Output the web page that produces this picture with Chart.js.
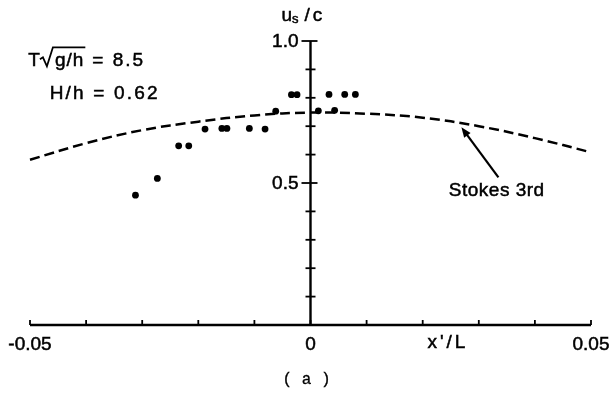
<!DOCTYPE html>
<html>
<head>
<meta charset="utf-8">
<script src="https://cdn.jsdelivr.net/npm/chart.js@4"></script>
<style>
  html, body { margin: 0; padding: 0; background: #fff; }
</style>
</head>
<body>
<canvas id="grafico" width="616" height="397"></canvas>
<script>
// Dados medidos (pontos) - u_s/c em função de x'/L
const medidosX = [-0.0312, -0.0273, -0.0235, -0.0217, -0.0188, -0.0158, -0.0149, -0.0109, -0.0081,
                  -0.0062, -0.0034, -0.0024, 0.0014, 0.0033, 0.0043, 0.0061, 0.0080];
const medidosY = [0.457, 0.516, 0.631, 0.631, 0.690, 0.692, 0.692, 0.692, 0.690,
                  0.753, 0.811, 0.811, 0.754, 0.812, 0.756, 0.812, 0.812];

// Curva teórica Stokes 3a ordem
const stokesX = [-0.05, -0.04, -0.03, -0.02, -0.01, 0, 0.01, 0.02, 0.03, 0.04, 0.05];
const stokesY = [0.582, 0.640, 0.686, 0.716, 0.738, 0.748, 0.744, 0.730, 0.700, 0.658, 0.608];

// Eixos
const X_MIN = -0.05, X_MAX = 0.05, Y_MIN = 0, Y_MAX = 1.0;
const xTicks = [-0.05, -0.04, -0.03, -0.02, -0.01, 0, 0.01, 0.02, 0.03, 0.04, 0.05];
const xLabels = [[-0.05, '-0.05'], [0, '0'], [0.05, '0.05']];
const yTicks = [0.1, 0.2, 0.3, 0.4, 0.5, 0.6, 0.7, 0.8, 0.9, 1.0];
const yLabels = [[0.5, '0.5'], [1.0, '1.0']];

// Anotações (posições em unidades dos dados)
const seta = { de: [0.0335, 0.52], para: [0.0269, 0.696] };
const textoStokes = { x: 0.0332, y: 0.454, txt: 'Stokes 3rd' };

const FONTE = '"Liberation Sans", Arial, Helvetica, sans-serif';

// texto um pouco mais "pesado", como na figura digitalizada
function escreve(ctx, t, x, y) {
  ctx.fillText(t, x, y);
  ctx.strokeText(t, x, y);
}

const eixos = {
  id: 'eixos',
  beforeDatasetsDraw(chart) {
    const { ctx, scales: { x, y } } = chart;
    const x0 = x.getPixelForValue(0), y0 = y.getPixelForValue(0);
    ctx.save();
    ctx.strokeStyle = '#000';
    ctx.fillStyle = '#000';
    ctx.lineWidth = 2.4;
    ctx.beginPath();
    ctx.moveTo(x.getPixelForValue(X_MIN), y0);
    ctx.lineTo(x.getPixelForValue(X_MAX), y0);
    ctx.stroke();
    ctx.beginPath();
    ctx.moveTo(x0, y0);
    ctx.lineTo(x0, y.getPixelForValue(Y_MAX));
    ctx.stroke();

    ctx.lineWidth = 1.8;
    xTicks.forEach(v => {
      const px = x.getPixelForValue(v);
      ctx.beginPath(); ctx.moveTo(px, y0); ctx.lineTo(px, y0 - 5); ctx.stroke();
    });
    yTicks.forEach(v => {
      const py = y.getPixelForValue(v);
      const grande = yLabels.some(l => Math.abs(l[0] - v) < 1e-9);
      ctx.beginPath(); ctx.moveTo(x0 - (grande ? 9 : 5), py); ctx.lineTo(x0 + (grande ? 7 : 5), py); ctx.stroke();
    });

    // rótulos
    ctx.lineWidth = 0.5;
    ctx.font = '19px ' + FONTE;
    ctx.textBaseline = 'middle';
    ctx.textAlign = 'center';
    xLabels.forEach(([v, t]) => escreve(ctx, t, x.getPixelForValue(v), y0 + 20));
    ctx.textAlign = 'right';
    yLabels.forEach(([v, t]) => escreve(ctx, t, x0 - 12, y.getPixelForValue(v) + 1));

    // x'/L
    ctx.textAlign = 'center';
    ctx.letterSpacing = '3px';
    escreve(ctx, "x'/L", x.getPixelForValue(0.0245), y0 + 18);
    ctx.letterSpacing = '0px';

    // u_s/c
    ctx.textAlign = 'left';
    ctx.textBaseline = 'alphabetic';
    let px = x0 - 29;
    const base = y.getPixelForValue(Y_MAX) - 20;
    ctx.font = '19px ' + FONTE;
    escreve(ctx, 'u', px, base); px += ctx.measureText('u').width;
    ctx.font = '13px ' + FONTE;
    escreve(ctx, 's', px, base + 2); px += ctx.measureText('s').width + 6;
    ctx.font = '19px ' + FONTE;
    escreve(ctx, '/', px, base); px += ctx.measureText('/').width + 3;
    escreve(ctx, 'c', px, base);

    // (a)
    ctx.lineWidth = 0.3;
    ctx.font = '16px "Liberation Mono", "DejaVu Sans Mono", monospace';
    ctx.textAlign = 'center';
    ctx.textBaseline = 'middle';
    escreve(ctx, '( a )', x0 - 4, y0 + 55);
    ctx.restore();
  },
  afterDatasetsDraw(chart) {
    const { ctx, scales: { x, y } } = chart;
    ctx.save();
    ctx.fillStyle = '#000';
    ctx.strokeStyle = '#000';

    // parâmetros
    ctx.font = '19px ' + FONTE;
    ctx.textBaseline = 'alphabetic';
    ctx.textAlign = 'left';
    ctx.lineWidth = 0.5;
    let px = x.getPixelForValue(-0.0503);
    const b1 = y.getPixelForValue(0.911);
    escreve(ctx, 'T', px, b1); px += ctx.measureText('T').width;
    // radical
    const topo = b1 - 19;
    ctx.lineWidth = 1.8;
    ctx.beginPath();
    ctx.moveTo(px, b1 - 7);
    ctx.lineTo(px + 3, b1 - 9);
    ctx.lineTo(px + 7, b1);
    ctx.lineTo(px + 13, topo);
    px += 15;
    ctx.letterSpacing = '1px';
    const w = ctx.measureText('g/h').width;
    ctx.lineTo(px + w + 1, topo);
    ctx.stroke();
    ctx.lineWidth = 0.5;
    escreve(ctx, 'g/h', px, b1);
    px += w + 8;
    ctx.letterSpacing = '2px';
    escreve(ctx, '= 8.5', px, b1);

    const b2 = y.getPixelForValue(0.795);
    ctx.letterSpacing = '2.2px';
    escreve(ctx, 'H/h = 0.62', x.getPixelForValue(-0.0465), b2);
    ctx.letterSpacing = '0.5px';

    // Stokes 3rd
    ctx.textAlign = 'center';
    escreve(ctx, textoStokes.txt, x.getPixelForValue(textoStokes.x), y.getPixelForValue(textoStokes.y));
    ctx.letterSpacing = '0px';

    // seta
    const ax = x.getPixelForValue(seta.de[0]), ay = y.getPixelForValue(seta.de[1]);
    const bx = x.getPixelForValue(seta.para[0]), by = y.getPixelForValue(seta.para[1]);
    const ang = Math.atan2(by - ay, bx - ax);
    ctx.lineWidth = 2.2;
    ctx.beginPath();
    ctx.moveTo(ax, ay);
    ctx.lineTo(bx - 6 * Math.cos(ang), by - 6 * Math.sin(ang));
    ctx.stroke();
    ctx.beginPath();
    ctx.moveTo(bx, by);
    ctx.lineTo(bx - 10 * Math.cos(ang) + 4 * Math.sin(ang), by - 10 * Math.sin(ang) - 4 * Math.cos(ang));
    ctx.lineTo(bx - 10 * Math.cos(ang) - 4 * Math.sin(ang), by - 10 * Math.sin(ang) + 4 * Math.cos(ang));
    ctx.closePath();
    ctx.fill();
    ctx.restore();
  }
};

const fundo = {
  id: 'fundo',
  beforeDraw(chart) {
    const ctx = chart.ctx;
    ctx.save();
    ctx.fillStyle = '#fff';
    ctx.fillRect(0, 0, chart.width, chart.height);
    ctx.restore();
  }
};

const ctx = document.getElementById('grafico').getContext('2d');
new Chart(ctx, {
  type: 'scatter',
  data: {
    datasets: [
      {
        label: 'Stokes 3rd',
        data: stokesX.map((v, i) => ({ x: v, y: stokesY[i] })),
        showLine: true,
        borderColor: '#000',
        borderWidth: 2.5,
        borderDash: [10, 5],
        pointRadius: 0,
        tension: 0.4,
        fill: false,
        clip: false
      },
      {
        label: 'medidos',
        data: medidosX.map((v, i) => ({ x: v, y: medidosY[i] })),
        showLine: false,
        pointRadius: 3.4,
        pointBackgroundColor: '#000',
        pointBorderColor: '#000',
        pointBorderWidth: 0,
        clip: false
      }
    ]
  },
  options: {
    responsive: false,
    animation: false,
    layout: { padding: { left: 30, right: 25, top: 41, bottom: 72 } },
    plugins: { legend: { display: false }, tooltip: { enabled: false } },
    scales: {
      x: { type: 'linear', min: X_MIN, max: X_MAX, display: false },
      y: { type: 'linear', min: Y_MIN, max: Y_MAX, display: false }
    }
  },
  plugins: [fundo, eixos]
});
</script>
</body>
</html>
